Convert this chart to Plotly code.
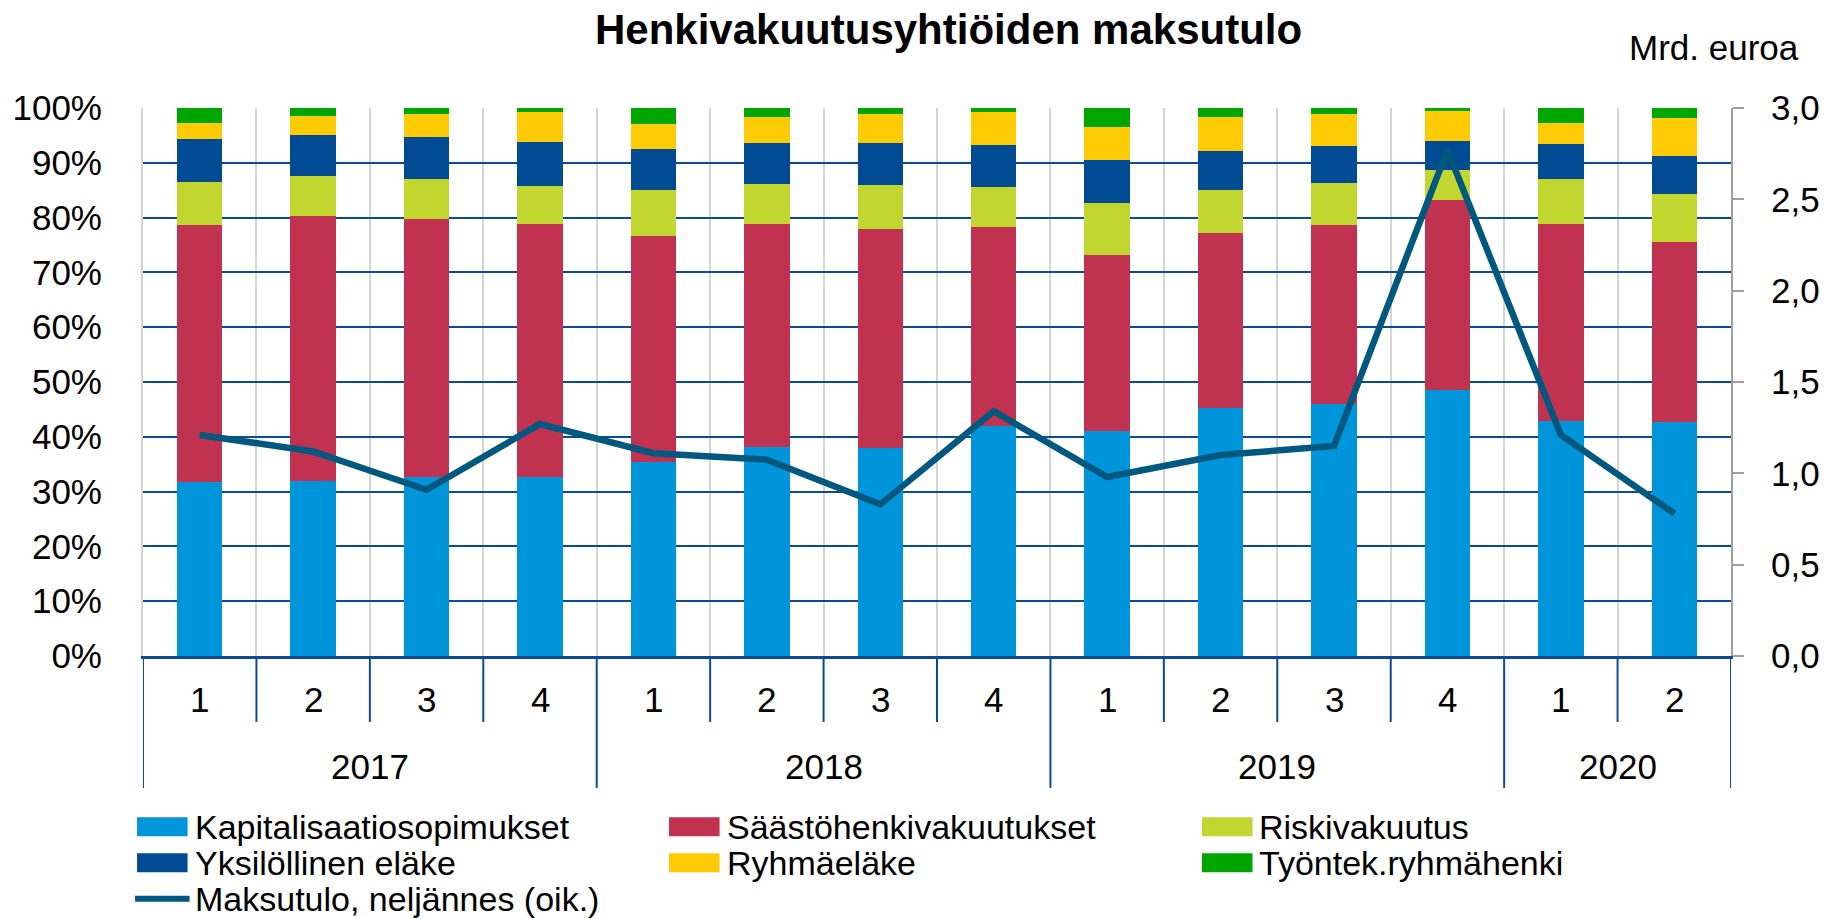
import plotly.graph_objects as go

# ---------------- data ----------------
years = ["2017", "2018", "2019", "2020"]
quarters_per_year = [4, 4, 4, 2]
quarter_labels = ["1", "2", "3", "4", "1", "2", "3", "4", "1", "2", "3", "4", "1", "2"]

kapitalisaatio = [31.7, 31.9, 32.6, 32.7, 35.4, 38.2, 37.9, 42.0, 41.0, 45.2, 45.9, 48.6, 42.9, 42.7]
saastohenki = [46.9, 48.4, 47.1, 46.1, 41.3, 40.6, 40.1, 36.3, 32.2, 32.0, 32.7, 34.7, 36.0, 32.9]
riski = [7.9, 7.3, 7.4, 7.0, 8.3, 7.4, 8.0, 7.2, 9.5, 7.9, 7.7, 5.45, 8.1, 8.7]
yksilollinen = [7.8, 7.4, 7.7, 8.0, 7.6, 7.5, 7.6, 7.7, 7.9, 7.1, 6.7, 5.25, 6.4, 7.0]
ryhmaelake = [3.0, 3.6, 4.15, 5.4, 4.4, 4.7, 5.3, 6.0, 6.0, 6.1, 5.9, 5.4, 3.9, 6.8]
tyontek = [2.7, 1.4, 1.05, 0.8, 3.0, 1.6, 1.1, 0.8, 3.4, 1.7, 1.1, 0.6, 2.7, 1.9]
maksutulo = [1.21, 1.12, 0.91, 1.27, 1.11, 1.075, 0.83, 1.34, 0.98, 1.10, 1.15, 2.77, 1.21, 0.78]

series_names = ["Kapitalisaatiosopimukset", "Säästöhenkivakuutukset", "Riskivakuutus",
                "Yksilöllinen eläke", "Ryhmäeläke", "Työntek.ryhmähenki"]
series_values = [kapitalisaatio, saastohenki, riski, yksilollinen, ryhmaelake, tyontek]
line_name = "Maksutulo, neljännes (oik.)"

# ---------------- style ----------------
colors = ["#0095DA", "#C03250", "#C1D730", "#004B93", "#FFCB05", "#00A600"]
line_color = "#00587E"
navy = "#0B4A94"
FONT = "Liberation Sans, Arial, sans-serif"

W, H = 1832, 919
L, R, T, B = 138, 1741, 107.5, 656  # plot area in pixels


def px(x):
    return (x - L) / (R - L)


def py(y):
    return (B - y) / (B - T)


# category keys built from years / quarters
year_of = []
for yr, n in zip(years, quarters_per_year):
    year_of.extend([yr] * n)
cats = [f"{yr} Q{q}" for yr, q in zip(year_of, quarter_labels)]

fig = go.Figure()
for name, vals, col in zip(series_names, series_values, colors):
    fig.add_trace(go.Bar(x=cats, y=vals, name=name, marker=dict(color=col, line=dict(width=0)),
                         width=0.4, showlegend=False))
fig.add_trace(go.Scatter(x=cats, y=maksutulo, name=line_name, mode="lines", yaxis="y2",
                         line=dict(color=line_color, width=6.5), showlegend=False))

annotations = []
shapes = []
axis_font = dict(size=35, color="black", family=FONT)

# quarter labels and dividers
for i, q in enumerate(quarter_labels):
    annotations.append(dict(x=i, y=py(700), xref="x", yref="paper", text=q, showarrow=False,
                            font=axis_font, xanchor="center", yanchor="middle"))
n = len(cats)
year_bounds = [0]
for k in quarters_per_year:
    year_bounds.append(year_bounds[-1] + k)
for i in range(n + 1):
    bottom = 788 if i in year_bounds else 722
    shapes.append(dict(type="line", xref="x", yref="paper", x0=i - 0.5, x1=i - 0.5, y0=0, y1=py(bottom),
                       line=dict(color=navy, width=2)))
# year labels
for yr, a, b in zip(years, year_bounds[:-1], year_bounds[1:]):
    annotations.append(dict(x=(a + b - 1) / 2, y=py(767), xref="x", yref="paper", text=yr, showarrow=False,
                            font=axis_font, xanchor="center", yanchor="middle"))

# title and unit
annotations.append(dict(x=px(951.5), y=py(29), xref="paper", yref="paper",
                        text="<b>Henkivakuutusyhtiöiden maksutulo</b>",
                        showarrow=False, font=dict(size=42, color="black", family=FONT),
                        xanchor="center", yanchor="middle"))
annotations.append(dict(x=px(1812), y=py(47), xref="paper", yref="paper", text="Mrd. euroa", showarrow=False,
                        font=axis_font, xanchor="right", yanchor="middle"))

# manual legend
leg_font = dict(size=34, color="black", family=FONT)
col_x = [132, 669, 1207]
row_y = [827, 863]
for k, (name, col) in enumerate(zip(series_names, colors)):
    r, c = divmod(k, 3)
    x0 = col_x[c]
    yc = row_y[r]
    shapes.append(dict(type="rect", xref="paper", yref="paper", x0=px(x0), x1=px(x0 + 51),
                       y0=py(yc + 9.5), y1=py(yc - 9.5), fillcolor=col, line=dict(width=0)))
    annotations.append(dict(x=px(x0 + 56), y=py(yc), xref="paper", yref="paper", text=name, showarrow=False,
                            font=leg_font, xanchor="left", yanchor="middle"))
shapes.append(dict(type="line", xref="paper", yref="paper", x0=px(130), x1=px(185), y0=py(899), y1=py(899),
                   line=dict(color=line_color, width=6)))
annotations.append(dict(x=px(188), y=py(899), xref="paper", yref="paper", text=line_name, showarrow=False,
                        font=leg_font, xanchor="left", yanchor="middle"))

fig.update_layout(
    width=W, height=H,
    margin=dict(l=L, r=W - R, t=T, b=H - B, pad=0),
    paper_bgcolor="white", plot_bgcolor="white",
    barmode="stack",
    separators=", ",
    font=dict(family=FONT, size=35, color="black"),
    showlegend=False,
    xaxis=dict(type="category", tickson="boundaries", showgrid=True, gridcolor="#D4D4D4", gridwidth=2,
               showticklabels=False, ticks="", showline=True, linecolor=navy, linewidth=3,
               range=[-0.5, n - 0.5], zeroline=False),
    yaxis=dict(range=[0, 100], dtick=10, ticksuffix="%", showgrid=True, gridcolor=navy, gridwidth=2,
               ticks="", ticklabelstandoff=32, showline=True, linecolor="#D4D4D4", linewidth=2,
               zeroline=False, tickfont=dict(size=35)),
    yaxis2=dict(range=[0, 3], dtick=0.5, tickformat=".1f", overlaying="y", side="right", showgrid=False,
                ticks="outside", ticklen=11, tickcolor="#A0A0A0", tickwidth=2, showline=True,
                linecolor="#A0A0A0", linewidth=2, ticklabelstandoff=20, zeroline=False, tickfont=dict(size=35)),
    annotations=annotations,
    shapes=shapes,
)

fig.write_html("out.html", config={"displayModeBar": False},
               post_script="document.body.style.margin='0';document.body.style.overflow='hidden';")
